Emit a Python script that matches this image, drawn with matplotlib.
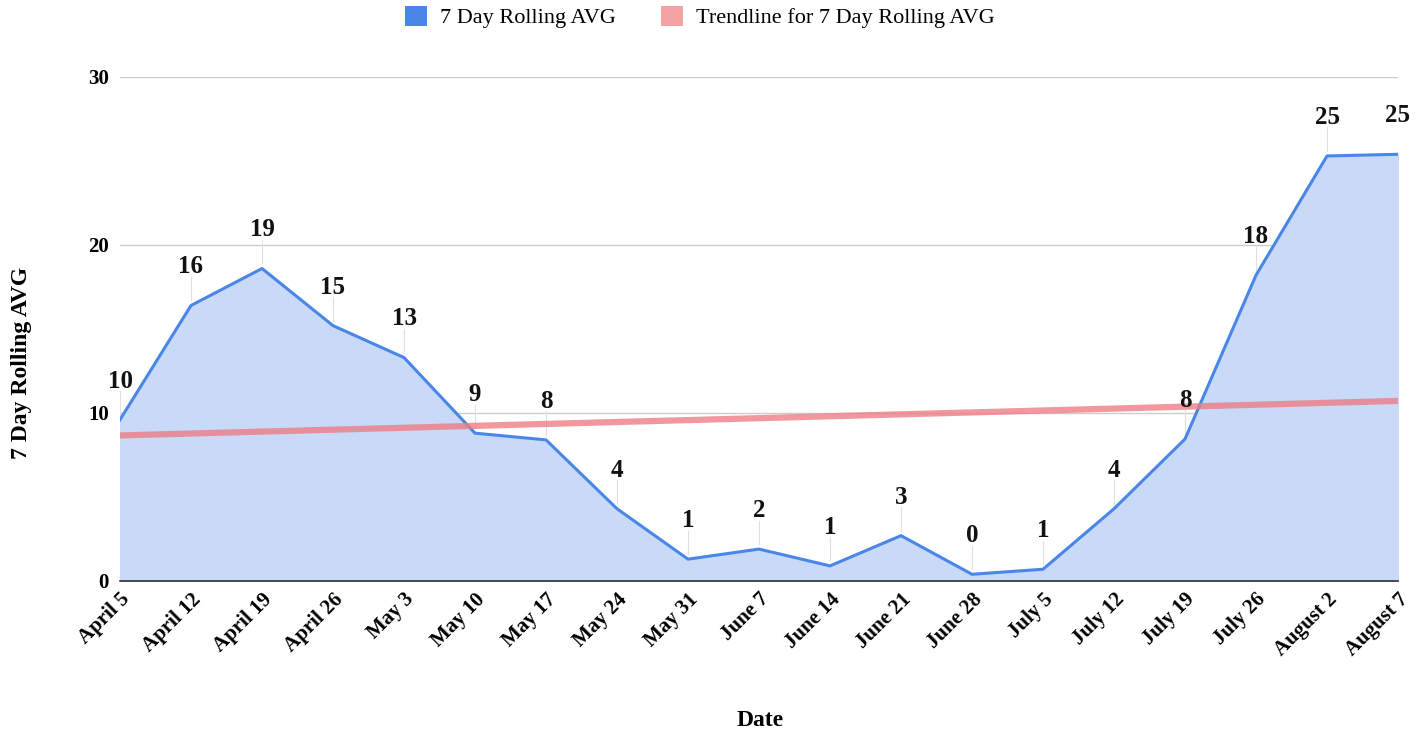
import matplotlib
matplotlib.use("Agg")
import matplotlib.pyplot as plt
import numpy as np
from matplotlib.patches import Patch

dates = ["April 5", "April 12", "April 19", "April 26", "May 3", "May 10", "May 17",
         "May 24", "May 31", "June 7", "June 14", "June 21", "June 28", "July 5",
         "July 12", "July 19", "July 26", "August 2", "August 7"]
rolling_avg = [9.6, 16.4, 18.6, 15.2, 13.3, 8.8, 8.4, 4.3, 1.3, 1.9, 0.9, 2.7,
               0.4, 0.7, 4.3, 8.45, 18.2, 25.3, 25.4]
yticks = [0, 10, 20, 30]

serif = ["Liberation Serif", "DejaVu Serif"]
plt.rcParams["font.family"] = serif

fig = plt.figure(figsize=(14.24, 7.35), dpi=100)
ax = fig.add_axes([120 / 1424, 1 - 581 / 735, (1398 - 120) / 1424, (581 - 77) / 735])

x = np.arange(len(dates))
y = np.array(rolling_avg)

blue = "#4a86e8"
ax.fill_between(x, 0, y, color="#c9daf8", zorder=1)
ax.plot(x, y, color=blue, lw=2.2, zorder=3, solid_joinstyle="round")

# trendline (linear fit)
coef = np.polyfit(x, y, 1)
trend = np.polyval(coef, x)
ax.plot(x, trend, color="#ee7d85", alpha=0.8, lw=4.5, zorder=4, solid_capstyle="butt")

# data labels with leader lines
for xi, yi in zip(x, y):
    lab_y = yi + 2.3
    ax.plot([xi, xi], [yi + 0.3, lab_y - 0.6], color="#e0e0e0", lw=0.8, zorder=2)
    ax.text(xi, lab_y, f"{int(round(yi))}", ha="center", va="center",
            fontsize=18, fontweight="bold", color="#111111", zorder=5)

ax.set_xlim(0, len(dates) - 1)
ax.set_ylim(0, 30)
ax.set_yticks(yticks)
ax.set_yticklabels([str(t) for t in yticks], fontsize=15, fontweight="bold")
ax.set_xticks(x)
ax.set_xticklabels(dates, rotation=45, ha="right", rotation_mode="anchor",
                   fontsize=15, fontweight="bold")
ax.tick_params(axis="both", length=0, pad=8)
ax.tick_params(axis="x", pad=6)
ax.grid(axis="y", color="#cccccc", lw=1, zorder=0)
ax.set_axisbelow(True)
for s in ["top", "right", "left"]:
    ax.spines[s].set_visible(False)
ax.spines["bottom"].set_color("#333333")
ax.spines["bottom"].set_linewidth(1.2)
ax.spines["bottom"].set_zorder(6)

fig.text(22 / 1424, 1 - 363 / 735, "7 Day Rolling AVG", ha="center", va="center",
         rotation=90, fontsize=17, fontweight="bold")
fig.text(760 / 1424, 1 - 721 / 735, "Date", ha="center", va="center",
         fontsize=17, fontweight="bold")

handles = [Patch(facecolor=blue, edgecolor="none"),
           Patch(facecolor="#f4a3a3", edgecolor="none")]
fig.legend(handles, ["7 Day Rolling AVG", "Trendline for 7 Day Rolling AVG"],
           loc="center", bbox_to_anchor=(700 / 1424, 1 - 17 / 735), ncol=2,
           frameon=False, fontsize=16, handlelength=1.0, handleheight=1.0,
           columnspacing=2.0, handletextpad=0.6)

fig.savefig("out.png", dpi=100)
